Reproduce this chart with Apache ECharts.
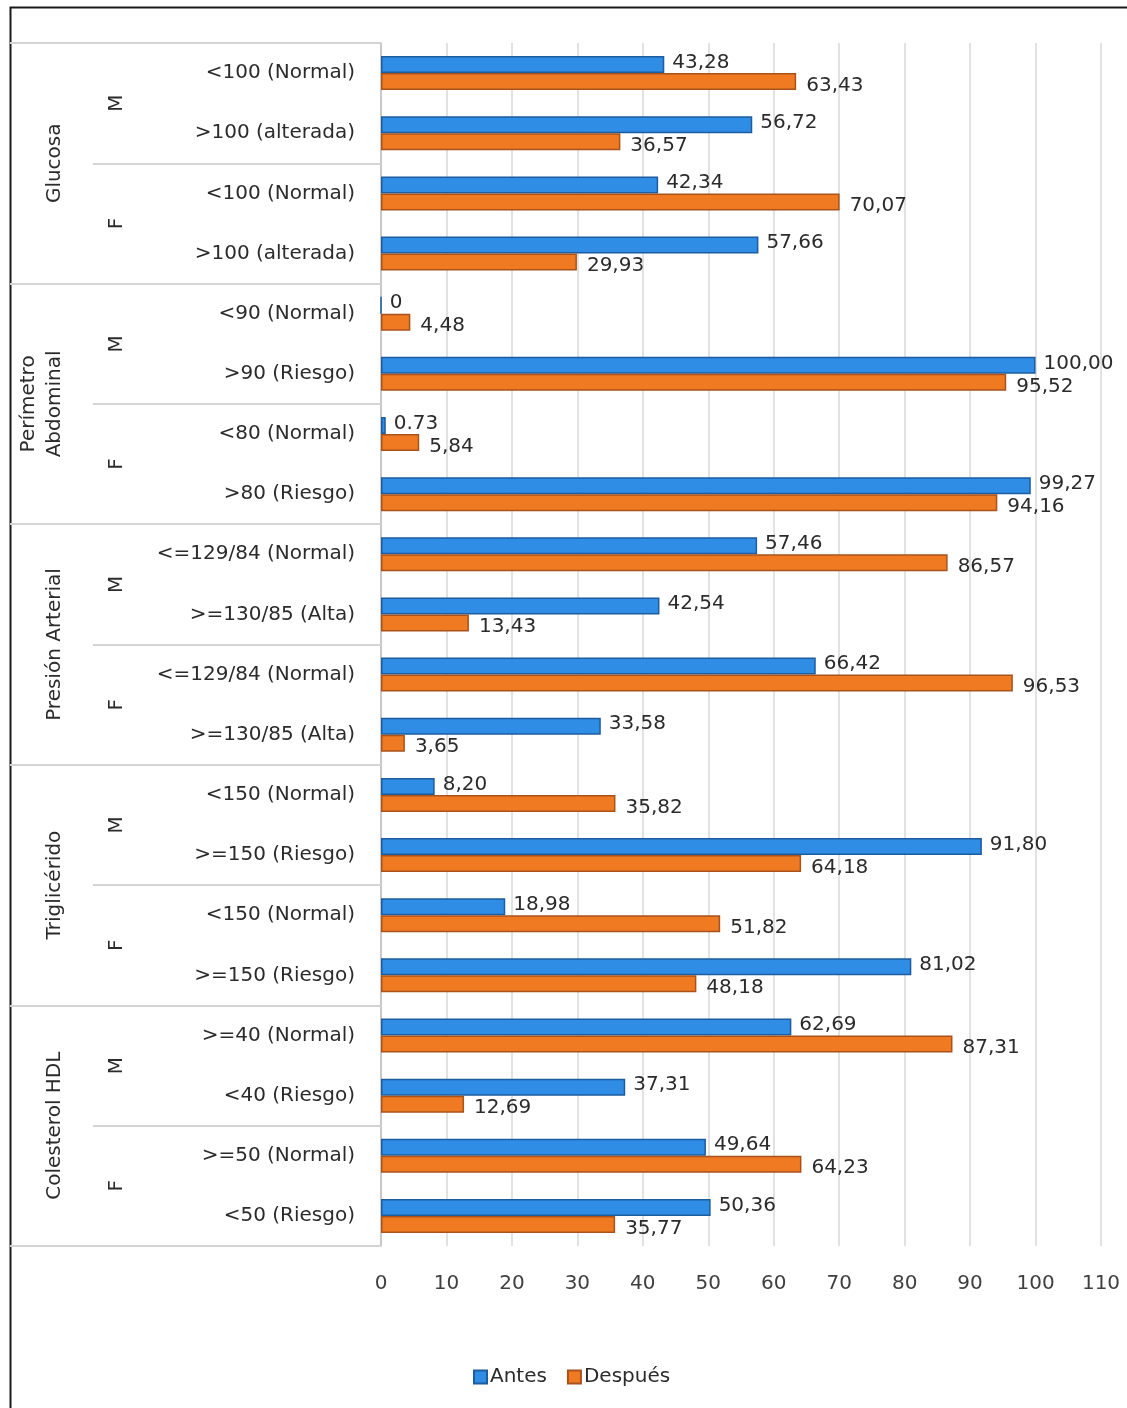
<!DOCTYPE html>
<html>
<head>
<meta charset="utf-8">
<script src="https://cdn.jsdelivr.net/npm/echarts@6/dist/echarts.min.js"></script>
<style>
  html, body { margin: 0; padding: 0; background: #ffffff; }
  #chart { width: 1127px; height: 1408px; }
</style>
</head>
<body>
<div id="chart"></div>
<script>
// Category levels (top to bottom)
const indicadores = ['Glucosa', 'Perímetro\nAbdominal', 'Presión Arterial', 'Triglicérido', 'Colesterol HDL'];
const sexos = ['M', 'F', 'M', 'F', 'M', 'F', 'M', 'F', 'M', 'F'];
const rangos = [
  '<100 (Normal)', '>100 (alterada)', '<100 (Normal)', '>100 (alterada)',
  '<90 (Normal)', '>90 (Riesgo)', '<80 (Normal)', '>80 (Riesgo)',
  '<=129/84 (Normal)', '>=130/85 (Alta)', '<=129/84 (Normal)', '>=130/85 (Alta)',
  '<150 (Normal)', '>=150 (Riesgo)', '<150 (Normal)', '>=150 (Riesgo)',
  '>=40 (Normal)', '<40 (Riesgo)', '>=50 (Normal)', '<50 (Riesgo)'
];

// Percentages
const antes = [
  43.28, 56.72, 42.34, 57.66,
  0, 100.00, 0.73, 99.27,
  57.46, 42.54, 66.42, 33.58,
  8.20, 91.80, 18.98, 81.02,
  62.69, 37.31, 49.64, 50.36
];
const despues = [
  63.43, 36.57, 70.07, 29.93,
  4.48, 95.52, 5.84, 94.16,
  86.57, 13.43, 96.53, 3.65,
  35.82, 64.18, 51.82, 48.18,
  87.31, 12.69, 64.23, 35.77
];

// X axis ticks
const xMin = 0, xMax = 110, xStep = 10;

// Label text: decimal comma, with the two values written differently in the source table
const antesLabelText = { 4: '0', 6: '0.73' };
function fmt(overrides) {
  return function (p) {
    if (overrides && overrides[p.dataIndex] !== undefined) return overrides[p.dataIndex];
    return p.value.toFixed(2).replace('.', ',');
  };
}

const FONT = 'DejaVu Sans';
const TEXT = '#2b2b2b';
const SEP = '#d4d4d4';

const chart = echarts.init(document.getElementById('chart'), null, { renderer: 'canvas' });

const option = {
  backgroundColor: '#ffffff',
  animation: false,
  textStyle: { fontFamily: FONT },
  grid: { left: 381, right: 26, top: 43, bottom: 162, containLabel: false },
  legend: {
    data: ['Antes', 'Después'],
    left: 468,
    top: 1362,
    itemWidth: 13,
    itemHeight: 13,
    itemGap: 20,
    icon: 'rect',
    textStyle: { fontFamily: FONT, fontSize: 20, color: TEXT, padding: [0, 0, 0, -2] }
  },
  xAxis: {
    type: 'value',
    min: xMin,
    max: xMax,
    interval: xStep,
    axisLine: { show: false },
    axisTick: { show: false },
    splitLine: { show: true, lineStyle: { color: '#d9d9d9', width: 1.5 } },
    axisLabel: { fontFamily: FONT, fontSize: 20, color: '#404040', margin: 28 }
  },
  yAxis: [
    {
      type: 'category',
      data: rangos,
      inverse: true,
      position: 'left',
      axisLine: { show: true, lineStyle: { color: '#bfbfbf', width: 1.5 } },
      axisTick: { show: false },
      axisLabel: { fontFamily: FONT, fontSize: 20, color: TEXT, margin: 26, interval: 0 }
    },
    {
      type: 'category',
      data: sexos,
      inverse: true,
      position: 'left',
      offset: 288,
      axisLine: { show: false },
      axisTick: { show: true, inside: true, length: 288, interval: 0, lineStyle: { color: SEP, width: 2 } },
      axisLabel: { inside: true, rotate: 90, margin: 14, fontFamily: FONT, fontSize: 20, color: TEXT, interval: 0 }
    },
    {
      type: 'category',
      data: indicadores,
      inverse: true,
      position: 'left',
      offset: 371,
      axisLine: { show: false },
      axisTick: { show: true, inside: true, length: 371, interval: 0, lineStyle: { color: SEP, width: 2 } },
      axisLabel: {
        inside: true, rotate: 90, margin: 58, verticalAlign: 'bottom', align: 'center',
        fontFamily: FONT, fontSize: 20, color: TEXT, interval: 0, lineHeight: 26
      }
    }
  ],
  series: [
    {
      name: 'Antes',
      type: 'bar',
      yAxisIndex: 0,
      data: antes,
      barWidth: 17,
      barGap: '0%',
      itemStyle: { color: '#2f8de6', borderColor: '#1d5c9e', borderWidth: 1.5 },
      label: {
        show: true,
        position: 'right',
        distance: 8,
        offset: [0, -2],
        formatter: fmt(antesLabelText),
        fontFamily: FONT,
        fontSize: 20,
        color: TEXT
      }
    },
    {
      name: 'Después',
      type: 'bar',
      yAxisIndex: 0,
      data: despues,
      barWidth: 17,
      barGap: '0%',
      itemStyle: { color: '#f07a22', borderColor: '#a9521b', borderWidth: 1.5 },
      label: {
        show: true,
        position: 'right',
        distance: 10,
        offset: [0, 4],
        formatter: fmt(null),
        fontFamily: FONT,
        fontSize: 20,
        color: TEXT
      }
    }
  ],
  graphic: [
    {
      type: 'rect',
      left: 8,
      top: 5,
      shape: { width: 1200, height: 1500 },
      style: { fill: 'none', stroke: '#1a1a1a', lineWidth: 2 },
      silent: true
    }
  ]
};

chart.setOption(option);
</script>
</body>
</html>
